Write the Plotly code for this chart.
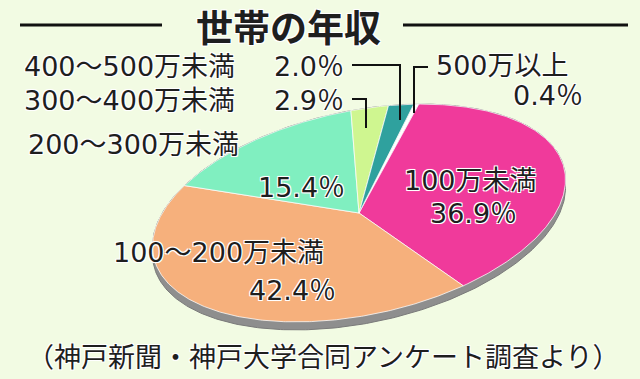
import numpy as np
import plotly.graph_objects as go

# ---- data ----
categories = ["500万以上", "100万未満", "100～200万未満", "200～300万未満", "300～400万未満", "400～500万未満"]
values = [0.4, 36.9, 42.4, 15.4, 2.9, 2.0]
pct_labels = ["0.4％", "36.9％", "42.4％", "15.4％", "2.9％", "2.0％"]
title_text = "世帯の年収"
source_text = "（神戸新聞・神戸大学合同アンケート調査より）"

# ---- style ----
colors = ["#FFFFFF", "#F03A9B", "#F6B07C", "#80EFC0", "#CFF690", "#2FA19E"]
BG = "#F2FBE3"
FONT = "DejaVu Sans, Noto Sans CJK JP, sans-serif"
HALO = "-1px -1px 0 #fff, 1px -1px 0 #fff, -1px 1px 0 #fff, 1px 1px 0 #fff, 0 0 2px #fff"

W, H = 640, 379
CX, CY = 359, 213
A, B = 210, 102
PHI = np.radians(12)
DEPTH = 8
START = 68.7  # degrees, slices run clockwise


def proj(theta_deg, r=1.0):
    t = np.radians(theta_deg)
    x = A * r * np.cos(t)
    y = B * r * np.sin(t)
    xr = x * np.cos(PHI) - y * np.sin(PHI)
    yr = x * np.sin(PHI) + y * np.cos(PHI)
    return CX + xr, CY - yr


fig = go.Figure()

# side rim (extruded ellipse)
ts = np.linspace(0, 2 * np.pi, 400)
ex = A * np.cos(ts)
ey = B * np.sin(ts)
nx = B * np.cos(ts)
ny = A * np.sin(ts)
rx = CX + ex * np.cos(PHI) - ey * np.sin(PHI)
ry = CY - (ex * np.sin(PHI) + ey * np.cos(PHI))
nyr = nx * np.sin(PHI) + ny * np.cos(PHI)
ry = np.where(nyr < 0, ry + DEPTH, ry)
fig.add_trace(go.Scatter(x=rx, y=ry, mode="lines", fill="toself",
                         fillcolor="#8E8E8E", line=dict(color="#7A7A7A", width=1),
                         hoverinfo="skip", showlegend=False))

# slices
ang = START
for cat, v, col in zip(categories, values, colors):
    span = 360 * v / 100
    th = np.linspace(ang, ang - span, max(3, int(span * 2)))
    px, py = proj(th)
    xs = np.concatenate([[CX], px, [CX]])
    ys = np.concatenate([[CY], py, [CY]])
    fig.add_trace(go.Scatter(x=xs, y=ys, mode="lines", fill="toself", fillcolor=col,
                             line=dict(color="rgba(255,255,255,0.75)", width=1),
                             name=cat, hoverinfo="name", showlegend=False))
    ang -= span

ann = []


def add_text(txt, x, y, anchor="left", size=27, family=FONT, bold=False):
    ann.append(dict(text=("<b>%s</b>" % txt) if bold else txt, x=x, y=y,
                    xref="x", yref="y", xanchor=anchor, yanchor="middle",
                    showarrow=False,
                    font=dict(family=family, size=size, color="#1E1E1E", shadow=HALO)))


add_text(title_text, 288, 26, "center", size=37, family="Noto Sans CJK JP", bold=True)
add_text(categories[5], 22, 66)
add_text(pct_labels[5], 346, 66, "right")
add_text(categories[4], 22, 100)
add_text(pct_labels[4], 346, 100, "right")
add_text(categories[3], 26, 144)
add_text(pct_labels[3], 301, 187, "center")
add_text(categories[2], 111, 252)
add_text(pct_labels[2], 292, 290, "center")
add_text(categories[1], 470, 180, "center")
add_text(pct_labels[1], 473, 213, "center")
add_text(categories[0], 434, 65)
add_text(pct_labels[0], 585, 95, "right")
add_text(source_text, 323, 355, "center", size=27, family="Noto Sans CJK JP")

shapes = [
    dict(type="line", x0=20, x1=162, y0=25, y1=25, line=dict(color="#111", width=3)),
    dict(type="line", x0=403, x1=628, y0=25, y1=25, line=dict(color="#111", width=3)),
    dict(type="path", path="M352,65 L400,65 L400,120", line=dict(color="#111", width=2)),
    dict(type="path", path="M352,99 L366,99 L366,128", line=dict(color="#111", width=2)),
    dict(type="path", path="M428,67 L414,67 L414,113", line=dict(color="#111", width=2)),
]
for s in shapes:
    s.update(xref="x", yref="y")

fig.update_layout(
    width=W, height=H, margin=dict(l=0, r=0, t=0, b=0),
    paper_bgcolor=BG, plot_bgcolor=BG,
    xaxis=dict(range=[0, W], visible=False, fixedrange=True),
    yaxis=dict(range=[H, 0], visible=False, fixedrange=True),
    annotations=ann, shapes=shapes, showlegend=False,
)
fig.write_html("out.html", config={"displayModeBar": False},
               post_script="document.body.style.margin='0';document.body.style.overflow='hidden';")
